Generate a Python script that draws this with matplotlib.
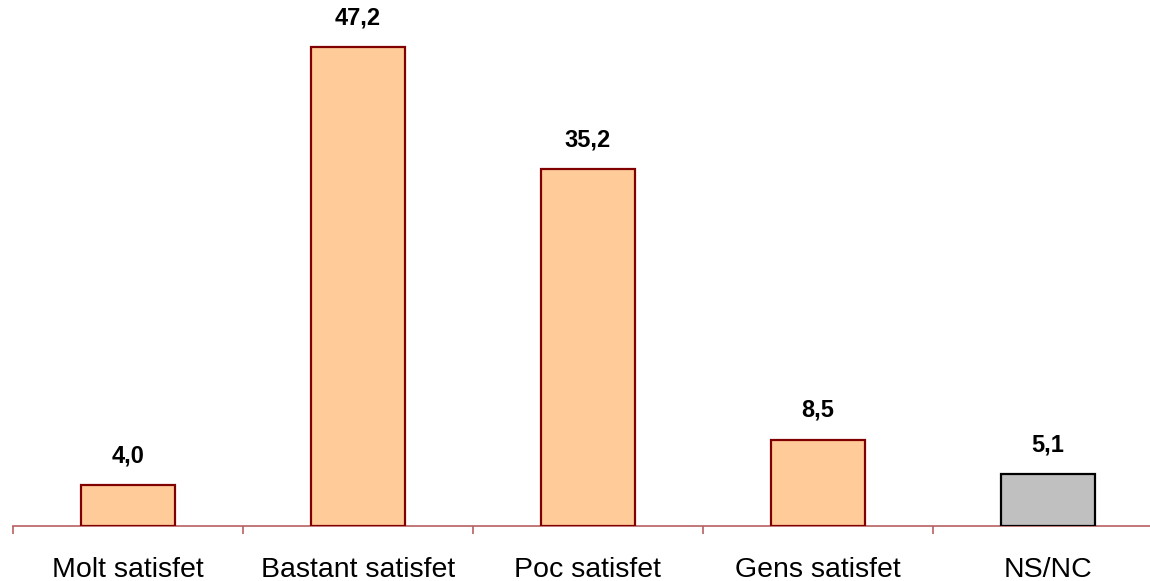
import matplotlib.pyplot as plt

categories = ["Molt satisfet", "Bastant satisfet", "Poc satisfet", "Gens satisfet", "NS/NC"]
values = [4.0, 47.2, 35.2, 8.5, 5.1]
labels = ["4,0", "47,2", "35,2", "8,5", "5,1"]
fills = ["#FFCC99", "#FFCC99", "#FFCC99", "#FFCC99", "#C0C0C0"]
edges = ["#800000", "#800000", "#800000", "#800000", "#000000"]

plt.rcParams['font.family'] = ['Liberation Sans', 'DejaVu Sans']

fig = plt.figure(figsize=(11.5, 5.81), dpi=100)
ax = fig.add_axes([13 / 1150, 55 / 581, 1.0, 507 / 581])

x = range(len(categories))
ax.bar(x, values, width=0.41, color=fills, edgecolor=edges, linewidth=1.6, zorder=3)

# value labels above each bar
for i, (v, t) in enumerate(zip(values, labels)):
    ax.annotate(t, (i, v), xytext=(0, 13), textcoords="offset points",
                ha="center", va="bottom", fontsize=17, fontweight="bold")

ax.set_xlim(-0.5, 4.5)
ax.set_ylim(0, 50)
ax.set_yticks([])
for s in ["top", "right", "left"]:
    ax.spines[s].set_visible(False)
ax.spines["bottom"].set_color("#B86060")
ax.spines["bottom"].set_linewidth(1.2)

# ticks between categories, labels centred under bars
ax.set_xticks([-0.5, 0.5, 1.5, 2.5, 3.5, 4.5])
ax.set_xticklabels([])
ax.tick_params(axis="x", which="major", direction="out", length=6, color="#B86060", width=1.2)
ax.set_xticks(list(x), minor=True)
ax.set_xticklabels(categories, minor=True, fontsize=20.5)
ax.tick_params(axis="x", which="minor", length=0, pad=22)

fig.savefig("out.png", dpi=100)
